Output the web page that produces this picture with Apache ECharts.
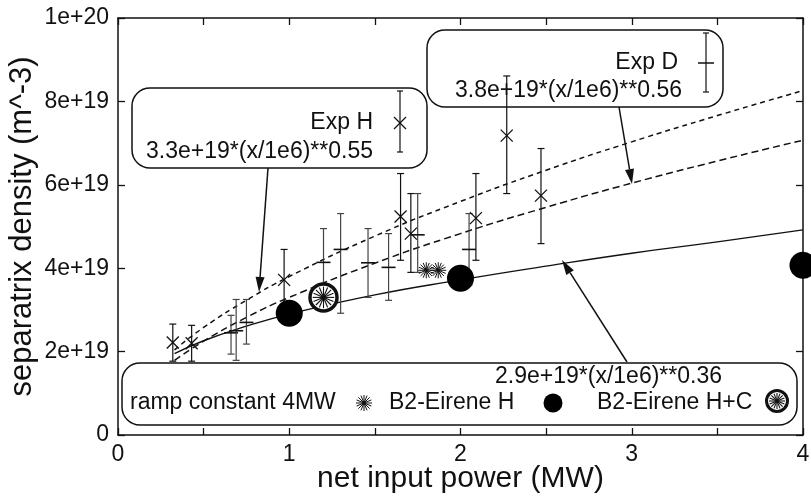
<!DOCTYPE html>
<html><head><meta charset="utf-8">
<script src="https://cdn.jsdelivr.net/npm/echarts@6/dist/echarts.min.js"></script>
<style>html,body{margin:0;padding:0;background:#fff}#c{width:811px;height:497px}</style>
</head><body><div id="c"></div>
<script>
// ---- data (y values in units of 1e19 m^-3, x in MW) ----
const yTickLabels = ['0', '2e+19', '4e+19', '6e+19', '8e+19', '1e+20'];
const xTickLabels = ['0', '1', '2', '3', '4'];

// fit curves
const fitX   = [0.33, 0.5, 0.75, 1, 1.5, 2, 2.5, 3, 3.5, 4];
const fitD   = [2.04, 2.58, 3.23, 3.80, 4.77, 5.60, 6.35, 7.03, 7.66, 8.26];
const fitH   = [1.79, 2.25, 2.82, 3.30, 4.12, 4.83, 5.46, 6.04, 6.57, 7.07];
const fitB2  = [1.95, 2.26, 2.61, 2.90, 3.36, 3.72, 4.05, 4.36, 4.63, 4.92];

// Exp D (cross marker with error bars)
const expDX  = [0.66, 0.69, 0.75, 1.20, 1.30, 1.46, 1.58, 1.75, 2.05];
const expDY  = [2.45, 2.50, 2.70, 4.14, 4.45, 4.13, 4.02, 4.80, 4.45];
const expDLo = [1.94, 1.79, 2.18, 3.30, 2.92, 3.30, 3.23, 3.90, 3.60];
const expDHi = [2.87, 3.25, 3.25, 4.95, 5.31, 4.95, 4.83, 5.79, 5.31];

// Exp H (X marker with error bars)
const expHX  = [0.32, 0.43, 0.97, 1.65, 1.71, 2.09, 2.27, 2.47];
const expHY  = [2.22, 2.20, 3.72, 5.24, 4.83, 5.20, 7.18, 5.74];
const expHLo = [1.77, 1.77, 2.95, 4.19, 3.90, 4.19, 5.79, 4.59];
const expHHi = [2.66, 2.63, 4.45, 6.27, 5.79, 6.27, 8.61, 6.87];

// ramp constant 4MW (asterisks)
const rampX = [1.80, 1.87];
const rampY = [3.95, 3.95];

// B2-Eirene H (filled dots)
const b2hX = [1.0, 2.0, 4.0];
const b2hY = [2.92, 3.76, 4.07];

// B2-Eirene H+C (ring)
const b2hcX = [1.2];
const b2hcY = [3.30];

// ---- chart ----
const FONT = 'Liberation Sans, Arial, sans-serif';
const INK = '#111';
const zip = (xs, ys) => xs.map((x, i) => [x, ys[i]]);

function errRender(kind) {
  return function (params, api) {
    const x = api.value(0), y = api.value(1), lo = api.value(2), hi = api.value(3);
    const p = api.coord([x, y]), pl = api.coord([x, lo]), ph = api.coord([x, hi]);
    const cap = 3.5;
    const st = { stroke: kind === 'D' ? '#444' : INK, lineWidth: 1.2 };
    const ch = [
      { type: 'line', shape: { x1: p[0], y1: ph[1], x2: p[0], y2: pl[1] }, style: st },
      { type: 'line', shape: { x1: p[0] - cap, y1: ph[1], x2: p[0] + cap, y2: ph[1] }, style: st },
      { type: 'line', shape: { x1: p[0] - cap, y1: pl[1], x2: p[0] + cap, y2: pl[1] }, style: st }
    ];
    if (kind === 'D') {
      ch.push({ type: 'line', shape: { x1: p[0] - 7, y1: p[1], x2: p[0] + 7, y2: p[1] }, style: { stroke: INK, lineWidth: 1.6 } });
    } else {
      const s = 6;
      ch.push({ type: 'line', shape: { x1: p[0] - s, y1: p[1] - s, x2: p[0] + s, y2: p[1] + s }, style: { stroke: INK, lineWidth: 1.3 } });
      ch.push({ type: 'line', shape: { x1: p[0] - s, y1: p[1] + s, x2: p[0] + s, y2: p[1] - s }, style: { stroke: INK, lineWidth: 1.3 } });
    }
    return { type: 'group', children: ch };
  };
}

function starShapes(cx, cy, r, lw) {
  const out = [];
  for (let k = 0; k < 8; k++) {
    const a = k * Math.PI / 8;
    out.push({ type: 'line', shape: { x1: cx - r * Math.cos(a), y1: cy - r * Math.sin(a), x2: cx + r * Math.cos(a), y2: cy + r * Math.sin(a) }, style: { stroke: INK, lineWidth: lw } });
  }
  return out;
}
function ringShapes(cx, cy, r, w) {
  const out = [{ type: 'circle', shape: { cx, cy, r }, style: { fill: '#fff', stroke: INK, lineWidth: w } }];
  return out.concat(starShapes(cx, cy, r - w / 2 - 1, 1.1));
}
function starRender(params, api) {
  const p = api.coord([api.value(0), api.value(1)]);
  return { type: 'group', children: starShapes(p[0], p[1], 8, 1) };
}
function ringRender(params, api) {
  const p = api.coord([api.value(0), api.value(1)]);
  return { type: 'group', children: ringShapes(p[0], p[1], 13.5, 3.5) };
}

function arrow(x1, y1, x2, y2) {
  const dx = x2 - x1, dy = y2 - y1, L = Math.hypot(dx, dy), ux = dx / L, uy = dy / L;
  const hl = 15, hw = 4.5, bx = x2 - ux * hl, by = y2 - uy * hl;
  return [
    { type: 'line', shape: { x1, y1, x2: bx, y2: by }, style: { stroke: INK, lineWidth: 1.5 } },
    { type: 'polygon', shape: { points: [[x2, y2], [bx - uy * hw, by + ux * hw], [bx + uy * hw, by - ux * hw]] }, style: { fill: INK } }
  ];
}
function txt(text, x, y, align, size) {
  return { type: 'text', z: 100, style: { text, x, y, fill: INK, font: (size || 23) + 'px ' + FONT, align, textAlign: align, verticalAlign: 'middle', textVerticalAlign: 'middle' } };
}
function box(x, y, w, h) {
  return { type: 'rect', z: 90, shape: { x, y, width: w, height: h, r: 18 }, style: { fill: 'none', stroke: INK, lineWidth: 1.5 } };
}
function lg(type, shape, style) { return { type, z: 100, shape, style }; }

const graphics = [].concat(
  // Exp H box
  [box(132, 88, 295, 80), txt('Exp H', 373, 123, 'right'), txt('3.3e+19*(x/1e6)**0.55', 373, 152, 'right')],
  [lg('line', { x1: 400, y1: 91, x2: 400, y2: 152 }, { stroke: INK, lineWidth: 1.2 }),
   lg('line', { x1: 397, y1: 91, x2: 403, y2: 91 }, { stroke: INK, lineWidth: 1.2 }),
   lg('line', { x1: 397, y1: 152, x2: 403, y2: 152 }, { stroke: INK, lineWidth: 1.2 }),
   lg('line', { x1: 394, y1: 117, x2: 406, y2: 129 }, { stroke: INK, lineWidth: 1.3 }),
   lg('line', { x1: 394, y1: 129, x2: 406, y2: 117 }, { stroke: INK, lineWidth: 1.3 })],
  // Exp D box
  [box(427, 30, 296, 77), txt('Exp D', 678, 63, 'right'), txt('3.8e+19*(x/1e6)**0.56', 682, 91, 'right')],
  [lg('line', { x1: 706, y1: 33, x2: 706, y2: 92 }, { stroke: INK, lineWidth: 1.2 }),
   lg('line', { x1: 703, y1: 33, x2: 709, y2: 33 }, { stroke: INK, lineWidth: 1.2 }),
   lg('line', { x1: 703, y1: 92, x2: 709, y2: 92 }, { stroke: INK, lineWidth: 1.2 }),
   lg('line', { x1: 698, y1: 63, x2: 714, y2: 63 }, { stroke: INK, lineWidth: 1.5 })],
  // bottom box
  [box(122, 363, 675, 62), txt('2.9e+19*(x/1e6)**0.36', 722, 377, 'right'),
   txt('ramp constant 4MW', 130, 403, 'left'), txt('B2-Eirene H', 389, 403, 'left'), txt('B2-Eirene H+C', 597, 403, 'left')],
  starShapes(364, 403, 8, 1).map(e => Object.assign(e, { z: 100 })),
  [lg('circle', { cx: 553, cy: 403, r: 9.5 }, { fill: '#000' })],
  ringShapes(777, 401, 10.5, 3).map(e => Object.assign(e, { z: 100 })),
  // arrows
  arrow(268, 168, 259, 292).map(e => Object.assign(e, { z: 95 })),
  arrow(619, 107, 632, 184).map(e => Object.assign(e, { z: 95 })),
  arrow(627, 362, 562, 260).map(e => Object.assign(e, { z: 95 }))
);

const axisCommon = {
  axisLine: { show: true, onZero: false, lineStyle: { color: INK, width: 1.5 } },
  axisTick: { show: true, inside: true, length: 7, lineStyle: { color: INK, width: 1.3 } },
  splitLine: { show: false }
};

const option = {
  animation: false,
  backgroundColor: '#fff',
  grid: { left: 118, right: 8, top: 18, bottom: 62, containLabel: false, outerBoundsMode: 'none' },
  xAxis: [
    Object.assign({
      type: 'value', min: 0, max: 4, interval: 0.5, position: 'bottom',
      name: 'net input power (MW)', nameLocation: 'middle', nameGap: 29, nameMoveOverlap: false,
      nameTextStyle: { fontFamily: FONT, fontSize: 30, color: INK },
      axisLabel: { fontFamily: FONT, fontSize: 23, color: INK, margin: 8,
        formatter: v => (Number.isInteger(v) ? xTickLabels[v] : '') }
    }, axisCommon),
    Object.assign({ type: 'value', min: 0, max: 4, interval: 0.5, position: 'top', axisLabel: { show: false } }, axisCommon)
  ],
  yAxis: [
    Object.assign({
      type: 'value', min: 0, max: 10, interval: 2, position: 'left',
      name: 'separatrix density (m^-3)', nameLocation: 'middle', nameGap: 80, nameRotate: 90, nameMoveOverlap: false,
      nameTextStyle: { fontFamily: FONT, fontSize: 31, color: INK },
      axisLabel: { fontFamily: FONT, fontSize: 23, color: INK, margin: 9,
        formatter: v => yTickLabels[Math.round(v / 2)] }
    }, axisCommon),
    Object.assign({ type: 'value', min: 0, max: 10, interval: 2, position: 'right', axisLabel: { show: false } }, axisCommon)
  ],
  series: [
    { type: 'line', data: fitX.map((x, i) => [x, fitD[i]]), smooth: true, showSymbol: false,
      lineStyle: { color: INK, width: 1.5, type: [5, 4] }, z: 2 },
    { type: 'line', data: fitX.map((x, i) => [x, fitH[i]]), smooth: true, showSymbol: false,
      lineStyle: { color: INK, width: 1.5, type: [7, 4] }, z: 2 },
    { type: 'line', data: fitX.map((x, i) => [x, fitB2[i]]), smooth: true, showSymbol: false,
      lineStyle: { color: INK, width: 1.4, type: 'solid' }, z: 2 },
    { type: 'custom', renderItem: errRender('D'), encode: { x: 0, y: 1 }, z: 3,
      data: expDX.map((x, i) => [x, expDY[i], expDLo[i], expDHi[i]]) },
    { type: 'custom', renderItem: errRender('H'), encode: { x: 0, y: 1 }, z: 3,
      data: expHX.map((x, i) => [x, expHY[i], expHLo[i], expHHi[i]]) },
    { type: 'custom', renderItem: starRender, encode: { x: 0, y: 1 }, z: 4, data: zip(rampX, rampY) },
    { type: 'scatter', data: zip(b2hX, b2hY), symbol: 'circle', symbolSize: 27,
      itemStyle: { color: '#000', opacity: 1 }, z: 5, clip: false },
    { type: 'custom', renderItem: ringRender, encode: { x: 0, y: 1 }, z: 5, data: zip(b2hcX, b2hcY) }
  ],
  graphic: { elements: graphics }
};

const chart = echarts.init(document.getElementById('c'), null, { renderer: 'canvas' });
chart.setOption(option);
</script>
</body></html>
